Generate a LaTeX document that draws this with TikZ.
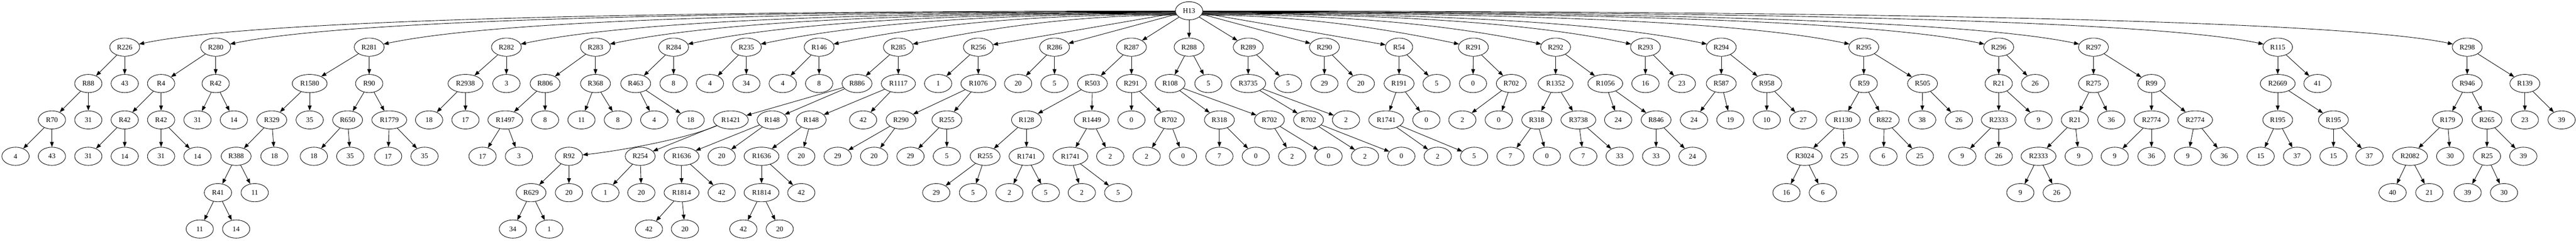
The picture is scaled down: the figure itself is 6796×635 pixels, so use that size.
\documentclass[tikz,border=0pt]{standalone}
\usepackage{fontspec}
\setmainfont{Liberation Serif}
\usetikzlibrary{shapes.geometric,arrows.meta}

\begin{document}
\begin{tikzpicture}[x=0.75pt,y=0.75pt,line width=0.9pt,>={Triangle[length=10pt,width=7.5pt]},
        vertex/.style={draw=black,ellipse,minimum width=54pt,minimum height=36pt,inner xsep=5.75pt,inner ysep=3pt,font=\fontsize{14pt}{16pt}\selectfont}]
        \useasboundingbox (0,0) rectangle (6796,-635);

        \node[vertex] (H13) at (3137,-28.5) {H13};

        \node[vertex] (R226) at (329,-124.5) {R226};
        \node[vertex] (R280) at (569,-124.5) {R280};
        \node[vertex] (R281) at (974,-124.5) {R281};
        \node[vertex] (R282) at (1336,-124.5) {R282};
        \node[vertex] (R283) at (1571,-124.5) {R283};
        \node[vertex] (R284) at (1777,-124.5) {R284};
        \node[vertex] (R235) at (1969,-124.5) {R235};
        \node[vertex] (R146) at (2161,-124.5) {R146};
        \node[vertex] (R285) at (2370,-124.5) {R285};
        \node[vertex] (R256) at (2581,-124.5) {R256};
        \node[vertex] (R286) at (2782,-124.5) {R286};
        \node[vertex] (R287) at (2985,-124.5) {R287};
        \node[vertex] (R288) at (3137,-124.5) {R288};
        \node[vertex] (R289) at (3293,-124.5) {R289};
        \node[vertex] (R290) at (3494,-124.5) {R290};
        \node[vertex] (R54) at (3691,-124.5) {R54};
        \node[vertex] (R291) at (3887,-124.5) {R291};
        \node[vertex] (R292) at (4104,-124.5) {R292};
        \node[vertex] (R293) at (4341,-124.5) {R293};
        \node[vertex] (R294) at (4541,-124.5) {R294};
        \node[vertex] (R295) at (4917,-124.5) {R295};
        \node[vertex] (R296) at (5273,-124.5) {R296};
        \node[vertex] (R297) at (5523,-124.5) {R297};
        \node[vertex] (R115) at (6009,-124.5) {R115};
        \node[vertex] (R298) at (6509,-124.5) {R298};

        \node[vertex] (R88) at (233,-220.5) {R88};
        \node[vertex] (t43b) at (329,-220.5) {43};
        \node[vertex] (R4) at (425,-220.5) {R4};
        \node[vertex] (R42) at (569,-220.5) {R42};
        \node[vertex] (R1580) at (817,-220.5) {R1580};
        \node[vertex] (R90) at (974,-220.5) {R90};
        \node[vertex] (R2938) at (1228,-220.5) {R2938};
        \node[vertex] (t3a) at (1336,-220.5) {3};
        \node[vertex] (R806) at (1438,-220.5) {R806};
        \node[vertex] (R368) at (1571,-220.5) {R368};
        \node[vertex] (R463) at (1677,-220.5) {R463};
        \node[vertex] (t8c) at (1777,-220.5) {8};
        \node[vertex] (t4c) at (1873,-220.5) {4};
        \node[vertex] (t34b) at (1969,-220.5) {34};
        \node[vertex] (t4d) at (2065,-220.5) {4};
        \node[vertex] (t8d) at (2161,-220.5) {8};
        \node[vertex] (R886) at (2261,-220.5) {R886};
        \node[vertex] (R1117) at (2370,-220.5) {R1117};
        \node[vertex] (t1c) at (2475,-220.5) {1};
        \node[vertex] (R1076) at (2581,-220.5) {R1076};
        \node[vertex] (t20h) at (2686,-220.5) {20};
        \node[vertex] (t5d) at (2782,-220.5) {5};
        \node[vertex] (R503) at (2882,-220.5) {R503};
        \node[vertex] (R291b) at (2985,-220.5) {R291};
        \node[vertex] (R108) at (3087,-220.5) {R108};
        \node[vertex] (t5f) at (3188,-220.5) {5};
        \node[vertex] (R3735) at (3293,-220.5) {R3735};
        \node[vertex] (t5g) at (3398,-220.5) {5};
        \node[vertex] (t29d) at (3494,-220.5) {29};
        \node[vertex] (t20i) at (3590,-220.5) {20};
        \node[vertex] (R191) at (3691,-220.5) {R191};
        \node[vertex] (t5h) at (3790,-220.5) {5};
        \node[vertex] (t0g) at (3886,-220.5) {0};
        \node[vertex] (R702d) at (3987,-220.5) {R702};
        \node[vertex] (R1352) at (4104,-220.5) {R1352};
        \node[vertex] (R1056) at (4235,-220.5) {R1056};
        \node[vertex] (t16a) at (4341,-220.5) {16};
        \node[vertex] (t23a) at (4437,-220.5) {23};
        \node[vertex] (R587) at (4541,-220.5) {R587};
        \node[vertex] (R958) at (4661,-220.5) {R958};
        \node[vertex] (R59) at (4917,-220.5) {R59};
        \node[vertex] (R505) at (5072,-220.5) {R505};
        \node[vertex] (R21) at (5273,-220.5) {R21};
        \node[vertex] (t26c) at (5369,-220.5) {26};
        \node[vertex] (R275) at (5523,-220.5) {R275};
        \node[vertex] (R99) at (5676,-220.5) {R99};
        \node[vertex] (R2669) at (6009,-220.5) {R2669};
        \node[vertex] (t41a) at (6114,-220.5) {41};
        \node[vertex] (R946) at (6509,-220.5) {R946};
        \node[vertex] (R139) at (6661,-220.5) {R139};

        \node[vertex] (R70) at (137,-316.5) {R70};
        \node[vertex] (t31a) at (233,-316.5) {31};
        \node[vertex] (R42b) at (329,-316.5) {R42};
        \node[vertex] (R42c) at (425,-316.5) {R42};
        \node[vertex] (t31d) at (521,-316.5) {31};
        \node[vertex] (t14c) at (617,-316.5) {14};
        \node[vertex] (R329) at (717,-316.5) {R329};
        \node[vertex] (t35a) at (817,-316.5) {35};
        \node[vertex] (R650) at (917,-316.5) {R650};
        \node[vertex] (R1779) at (1027,-316.5) {R1779};
        \node[vertex] (t18c) at (1132,-316.5) {18};
        \node[vertex] (t17b) at (1228,-316.5) {17};
        \node[vertex] (R1497) at (1333,-316.5) {R1497};
        \node[vertex] (t8a) at (1438,-316.5) {8};
        \node[vertex] (t11c) at (1534,-316.5) {11};
        \node[vertex] (t8b) at (1630,-316.5) {8};
        \node[vertex] (t4b) at (1726,-316.5) {4};
        \node[vertex] (t18d) at (1822,-316.5) {18};
        \node[vertex] (R1421) at (1928,-316.5) {R1421};
        \node[vertex] (R148) at (2037,-316.5) {R148};
        \node[vertex] (R148b) at (2140,-316.5) {R148};
        \node[vertex] (t42e) at (2277,-316.5) {42};
        \node[vertex] (R290b) at (2377,-316.5) {R290};
        \node[vertex] (R255) at (2498,-316.5) {R255};
        \node[vertex] (R128) at (2708,-316.5) {R128};
        \node[vertex] (R1449) at (2880,-316.5) {R1449};
        \node[vertex] (t0a) at (2985,-316.5) {0};
        \node[vertex] (R702) at (3085,-316.5) {R702};
        \node[vertex] (R318) at (3217,-316.5) {R318};
        \node[vertex] (R702b) at (3349,-316.5) {R702};
        \node[vertex] (R702c) at (3452,-316.5) {R702};
        \node[vertex] (t2f) at (3551,-316.5) {2};
        \node[vertex] (R1741c) at (3657,-316.5) {R1741};
        \node[vertex] (t0f) at (3763,-316.5) {0};
        \node[vertex] (t2i) at (3858,-316.5) {2};
        \node[vertex] (t0h) at (3954,-316.5) {0};
        \node[vertex] (R318b) at (4054,-316.5) {R318};
        \node[vertex] (R3738) at (4164,-316.5) {R3738};
        \node[vertex] (t24a) at (4269,-316.5) {24};
        \node[vertex] (R846) at (4369,-316.5) {R846};
        \node[vertex] (t24c) at (4469,-316.5) {24};
        \node[vertex] (t19a) at (4565,-316.5) {19};
        \node[vertex] (t10a) at (4661,-316.5) {10};
        \node[vertex] (t27a) at (4757,-316.5) {27};
        \node[vertex] (R1130) at (4862,-316.5) {R1130};
        \node[vertex] (R822) at (4971,-316.5) {R822};
        \node[vertex] (t38a) at (5071,-316.5) {38};
        \node[vertex] (t26a) at (5168,-316.5) {26};
        \node[vertex] (R2333) at (5273,-316.5) {R2333};
        \node[vertex] (t9c) at (5378,-316.5) {9};
        \node[vertex] (R21b) at (5474,-316.5) {R21};
        \node[vertex] (t36a) at (5570,-316.5) {36};
        \node[vertex] (R2774) at (5676,-316.5) {R2774};
        \node[vertex] (R2774b) at (5791,-316.5) {R2774};
        \node[vertex] (R195) at (6009,-316.5) {R195};
        \node[vertex] (R195b) at (6156,-316.5) {R195};
        \node[vertex] (R179) at (6457,-316.5) {R179};
        \node[vertex] (R265) at (6561,-316.5) {R265};
        \node[vertex] (t23b) at (6661,-316.5) {23};
        \node[vertex] (t39c) at (6758,-316.5) {39};

        \node[vertex] (t4a) at (41,-412.5) {4};
        \node[vertex] (t43a) at (137,-412.5) {43};
        \node[vertex] (t31b) at (233,-412.5) {31};
        \node[vertex] (t14a) at (329,-412.5) {14};
        \node[vertex] (t31c) at (425,-412.5) {31};
        \node[vertex] (t14b) at (521,-412.5) {14};
        \node[vertex] (R388) at (623,-412.5) {R388};
        \node[vertex] (t18a) at (724,-412.5) {18};
        \node[vertex] (t18b) at (828,-412.5) {18};
        \node[vertex] (t35b) at (924,-412.5) {35};
        \node[vertex] (t17a) at (1024,-412.5) {17};
        \node[vertex] (t35c) at (1120,-412.5) {35};
        \node[vertex] (t17c) at (1273,-412.5) {17};
        \node[vertex] (t3b) at (1369,-412.5) {3};
        \node[vertex] (R92) at (1501,-412.5) {R92};
        \node[vertex] (R254) at (1689,-412.5) {R254};
        \node[vertex] (R1636) at (1798,-412.5) {R1636};
        \node[vertex] (t20d) at (1904,-412.5) {20};
        \node[vertex] (R1636b) at (2009,-412.5) {R1636};
        \node[vertex] (t20f) at (2114,-412.5) {20};
        \node[vertex] (t29a) at (2210,-412.5) {29};
        \node[vertex] (t20g) at (2306,-412.5) {20};
        \node[vertex] (t29b) at (2402,-412.5) {29};
        \node[vertex] (t5a) at (2498,-412.5) {5};
        \node[vertex] (R255b) at (2599,-412.5) {R255};
        \node[vertex] (R1741) at (2708,-412.5) {R1741};
        \node[vertex] (R1741b) at (2824,-412.5) {R1741};
        \node[vertex] (t2c) at (2929,-412.5) {2};
        \node[vertex] (t2d) at (3025,-412.5) {2};
        \node[vertex] (t0b) at (3121,-412.5) {0};
        \node[vertex] (t7a) at (3217,-412.5) {7};
        \node[vertex] (t0c) at (3313,-412.5) {0};
        \node[vertex] (t2e) at (3409,-412.5) {2};
        \node[vertex] (t0d) at (3505,-412.5) {0};
        \node[vertex] (t2g) at (3601,-412.5) {2};
        \node[vertex] (t0e) at (3697,-412.5) {0};
        \node[vertex] (t2h) at (3793,-412.5) {2};
        \node[vertex] (t5i) at (3889,-412.5) {5};
        \node[vertex] (t7b) at (3985,-412.5) {7};
        \node[vertex] (t0i) at (4081,-412.5) {0};
        \node[vertex] (t7c) at (4177,-412.5) {7};
        \node[vertex] (t33a) at (4273,-412.5) {33};
        \node[vertex] (t33b) at (4369,-412.5) {33};
        \node[vertex] (t24b) at (4465,-412.5) {24};
        \node[vertex] (R3024) at (4761,-412.5) {R3024};
        \node[vertex] (t25a) at (4866,-412.5) {25};
        \node[vertex] (t6b) at (4969,-412.5) {6};
        \node[vertex] (t25b) at (5065,-412.5) {25};
        \node[vertex] (t9a) at (5177,-412.5) {9};
        \node[vertex] (t26b) at (5273,-412.5) {26};
        \node[vertex] (R2333b) at (5378,-412.5) {R2333};
        \node[vertex] (t9d) at (5484,-412.5) {9};
        \node[vertex] (t9e) at (5579,-412.5) {9};
        \node[vertex] (t36b) at (5676,-412.5) {36};
        \node[vertex] (t9f) at (5772,-412.5) {9};
        \node[vertex] (t36c) at (5868,-412.5) {36};
        \node[vertex] (t15a) at (5964,-412.5) {15};
        \node[vertex] (t37a) at (6060,-412.5) {37};
        \node[vertex] (t15b) at (6156,-412.5) {15};
        \node[vertex] (t37b) at (6251,-412.5) {37};
        \node[vertex] (R2082) at (6358,-412.5) {R2082};
        \node[vertex] (t30a) at (6464,-412.5) {30};
        \node[vertex] (R25) at (6561,-412.5) {R25};
        \node[vertex] (t39b) at (6657,-412.5) {39};

        \node[vertex] (R41) at (575,-508.5) {R41};
        \node[vertex] (t11b) at (672,-508.5) {11};
        \node[vertex] (R629) at (1401,-508.5) {R629};
        \node[vertex] (t20a) at (1501,-508.5) {20};
        \node[vertex] (t1b) at (1597,-508.5) {1};
        \node[vertex] (t20b) at (1692,-508.5) {20};
        \node[vertex] (R1814) at (1798,-508.5) {R1814};
        \node[vertex] (t42b) at (1904,-508.5) {42};
        \node[vertex] (R1814b) at (2009,-508.5) {R1814};
        \node[vertex] (t42d) at (2114,-508.5) {42};
        \node[vertex] (t29c) at (2470,-508.5) {29};
        \node[vertex] (t5b) at (2567,-508.5) {5};
        \node[vertex] (t2a) at (2663,-508.5) {2};
        \node[vertex] (t5c) at (2759,-508.5) {5};
        \node[vertex] (t2b) at (2854,-508.5) {2};
        \node[vertex] (t5e) at (2950,-508.5) {5};
        \node[vertex] (t16b) at (4713,-508.5) {16};
        \node[vertex] (t6a) at (4809,-508.5) {6};
        \node[vertex] (t9b) at (5330,-508.5) {9};
        \node[vertex] (t26d) at (5426,-508.5) {26};
        \node[vertex] (t40a) at (6312,-508.5) {40};
        \node[vertex] (t21a) at (6409,-508.5) {21};
        \node[vertex] (t39a) at (6510,-508.5) {39};
        \node[vertex] (t30b) at (6606,-508.5) {30};

        \node[vertex] (t11a) at (527,-604.5) {11};
        \node[vertex] (t14d) at (623,-604.5) {14};
        \node[vertex] (t34a) at (1353,-604.5) {34};
        \node[vertex] (t1a) at (1449,-604.5) {1};
        \node[vertex] (t42a) at (1712,-604.5) {42};
        \node[vertex] (t20c) at (1807,-604.5) {20};
        \node[vertex] (t42c) at (1961,-604.5) {42};
        \node[vertex] (t20e) at (2057,-604.5) {20};

        \path [->](H13) edge (R256) edge (R286) edge (R287) edge (R288) edge (R289) edge (R290) edge (R54);
        \draw [->](H13.181) .. controls (1549,-29.1) and (639,-58.6) .. (R226.12);
        \draw [->](H13.183) .. controls (1709,-30.4) and (879,-58.6) .. (R280.12);
        \draw [->](H13.185) .. controls (1979,-31.6) and (1284,-58.6) .. (R281.12);
        \draw [->](H13.187) .. controls (2220,-32.9) and (1646,-58.6) .. (R282.12);
        \draw [->](H13.189) .. controls (2377,-34.1) and (1881,-58.6) .. (R283.12);
        \draw [->](H13.191) .. controls (2514,-35.2) and (2087,-58.6) .. (R284.12);
        \draw [->](H13.193) .. controls (2642,-36.4) and (2279,-58.6) .. (R235.12);
        \draw [->](H13.196) .. controls (2770,-38.0) and (2471,-58.6) .. (R146.12);
        \draw [->](H13.199) .. controls (2909,-39.5) and (2680,-58.6) .. (R285.12);
        \draw [->](H13.341) .. controls (3353,-39.5) and (3577,-58.6) .. (R291.168);
        \draw [->](H13.344) .. controls (3498,-38.0) and (3794,-58.6) .. (R292.168);
        \draw [->](H13.347) .. controls (3656,-36.4) and (4031,-58.6) .. (R293.168);
        \draw [->](H13.349) .. controls (3789,-35.2) and (4231,-58.6) .. (R294.168);
        \draw [->](H13.351) .. controls (4040,-34.1) and (4607,-58.6) .. (R295.168);
        \draw [->](H13.353) .. controls (4277,-32.9) and (4963,-58.6) .. (R296.168);
        \draw [->](H13.355) .. controls (4444,-31.6) and (5213,-58.6) .. (R297.168);
        \draw [->](H13.357) .. controls (4768,-30.4) and (5699,-58.6) .. (R115.168);
        \draw [->](H13.359) .. controls (5101,-29.1) and (6199,-58.6) .. (R298.168);

        \path [->](R226) edge (R88) edge (t43b);
        \path [->](R88) edge (R70) edge (t31a);
        \path [->](R70) edge (t4a) edge (t43a);
        \path [->](R280) edge (R4) edge (R42);
        \path [->](R4) edge (R42b) edge (R42c);
        \path [->](R42b) edge (t31b) edge (t14a);
        \path [->](R42c) edge (t31c) edge (t14b);
        \path [->](R42) edge (t31d) edge (t14c);
        \path [->](R281) edge (R1580) edge (R90);
        \path [->](R1580) edge (R329) edge (t35a);
        \path [->](R329) edge (R388) edge (t18a);
        \path [->](R388) edge (R41) edge (t11b);
        \path [->](R41) edge (t11a) edge (t14d);
        \path [->](R90) edge (R650) edge (R1779);
        \path [->](R650) edge (t18b) edge (t35b);
        \path [->](R1779) edge (t17a) edge (t35c);
        \path [->](R282) edge (R2938) edge (t3a);
        \path [->](R2938) edge (t18c) edge (t17b);
        \path [->](R283) edge (R806) edge (R368);
        \path [->](R806) edge (R1497) edge (t8a);
        \path [->](R1497) edge (t17c) edge (t3b);
        \path [->](R368) edge (t11c) edge (t8b);
        \path [->](R284) edge (R463) edge (t8c);
        \path [->](R463) edge (t4b) edge (t18d);
        \path [->](R235) edge (t4c) edge (t34b);
        \path [->](R146) edge (t4d) edge (t8d);
        \path [->](R285) edge (R886) edge (R1117);
        \path [->](R886) edge (R1421) edge (R148);
        \draw [->](R1421) .. controls (1800,-370) and (1620,-400) .. (R92);
        \path [->](R1421) edge (R254);
        \path [->](R92) edge (R629) edge (t20a);
        \path [->](R629) edge (t34a) edge (t1a);
        \path [->](R254) edge (t1b) edge (t20b);
        \path [->](R148) edge (R1636) edge (t20d);
        \path [->](R1636) edge (R1814) edge (t42b);
        \path [->](R1814) edge (t42a) edge (t20c);
        \path [->](R1117) edge (R148b) edge (t42e);
        \path [->](R148b) edge (R1636b) edge (t20f);
        \path [->](R1636b) edge (R1814b) edge (t42d);
        \path [->](R1814b) edge (t42c) edge (t20e);
        \path [->](R256) edge (t1c) edge (R1076);
        \path [->](R1076) edge (R290b) edge (R255);
        \path [->](R290b) edge (t29a) edge (t20g);
        \path [->](R255) edge (t29b) edge (t5a);
        \path [->](R286) edge (t20h) edge (t5d);
        \path [->](R287) edge (R503) edge (R291b);
        \path [->](R503) edge (R128) edge (R1449);
        \path [->](R128) edge (R255b) edge (R1741);
        \path [->](R255b) edge (t29c) edge (t5b);
        \path [->](R1741) edge (t2a) edge (t5c);
        \path [->](R1449) edge (R1741b) edge (t2c);
        \path [->](R1741b) edge (t2b) edge (t5e);
        \path [->](R291b) edge (t0a) edge (R702);
        \path [->](R702) edge (t2d) edge (t0b);
        \path [->](R288) edge (R108) edge (t5f);
        \path [->](R108) edge (R318) edge (R702b);
        \path [->](R318) edge (t7a) edge (t0c);
        \path [->](R702b) edge (t2e) edge (t0d);
        \path [->](R289) edge (R3735) edge (t5g);
        \path [->](R3735) edge (R702c) edge (t2f);
        \path [->](R702c) edge (t2g) edge (t0e);
        \path [->](R290) edge (t29d) edge (t20i);
        \path [->](R54) edge (R191) edge (t5h);
        \path [->](R191) edge (R1741c) edge (t0f);
        \path [->](R1741c) edge (t2h) edge (t5i);
        \path [->](R291) edge (t0g) edge (R702d);
        \path [->](R702d) edge (t2i) edge (t0h);
        \path [->](R292) edge (R1352) edge (R1056);
        \path [->](R1352) edge (R318b) edge (R3738);
        \path [->](R318b) edge (t7b) edge (t0i);
        \path [->](R3738) edge (t7c) edge (t33a);
        \path [->](R1056) edge (t24a) edge (R846);
        \path [->](R846) edge (t33b) edge (t24b);
        \path [->](R293) edge (t16a) edge (t23a);
        \path [->](R294) edge (R587) edge (R958);
        \path [->](R587) edge (t24c) edge (t19a);
        \path [->](R958) edge (t10a) edge (t27a);
        \path [->](R295) edge (R59) edge (R505);
        \path [->](R59) edge (R1130) edge (R822);
        \path [->](R1130) edge (R3024) edge (t25a);
        \path [->](R3024) edge (t16b) edge (t6a);
        \path [->](R822) edge (t6b) edge (t25b);
        \path [->](R505) edge (t38a) edge (t26a);
        \path [->](R296) edge (R21) edge (t26c);
        \path [->](R21) edge (R2333) edge (t9c);
        \path [->](R2333) edge (t9a) edge (t26b);
        \path [->](R297) edge (R275) edge (R99);
        \path [->](R275) edge (R21b) edge (t36a);
        \path [->](R21b) edge (R2333b) edge (t9d);
        \path [->](R2333b) edge (t9b) edge (t26d);
        \path [->](R99) edge (R2774) edge (R2774b);
        \path [->](R2774) edge (t9e) edge (t36b);
        \path [->](R2774b) edge (t9f) edge (t36c);
        \path [->](R115) edge (R2669) edge (t41a);
        \path [->](R2669) edge (R195) edge (R195b);
        \path [->](R195) edge (t15a) edge (t37a);
        \path [->](R195b) edge (t15b) edge (t37b);
        \path [->](R298) edge (R946) edge (R139);
        \path [->](R946) edge (R179) edge (R265);
        \path [->](R179) edge (R2082) edge (t30a);
        \path [->](R2082) edge (t40a) edge (t21a);
        \path [->](R265) edge (R25) edge (t39b);
        \path [->](R25) edge (t39a) edge (t30b);
        \path [->](R139) edge (t23b) edge (t39c);
    \end{tikzpicture}
\end{document}
